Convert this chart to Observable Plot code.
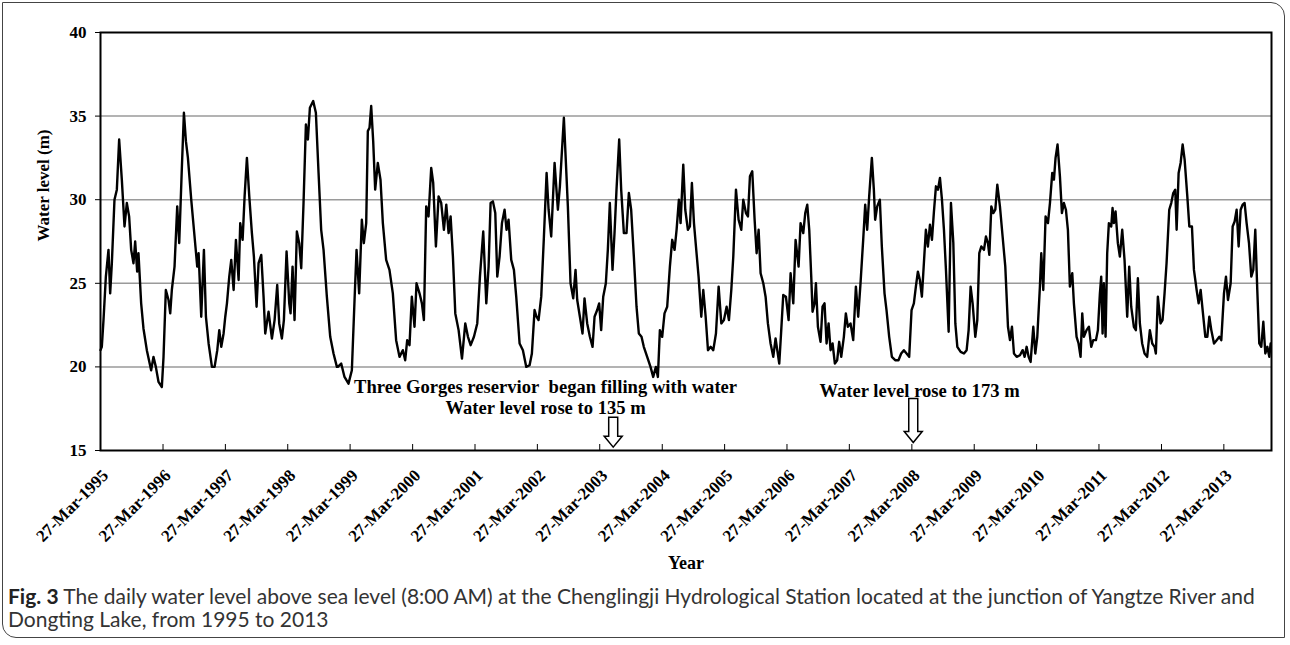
<!DOCTYPE html>
<html>
<head>
<meta charset="utf-8">
<script src="https://cdn.jsdelivr.net/npm/d3@7"></script>
<script src="https://cdn.jsdelivr.net/npm/@observablehq/plot@0.6"></script>
<style>
  html, body { margin: 0; padding: 0; background: #fff; }
  #border { position: absolute; left: 2px; top: 2px; width: 1283px; height: 636px;
            border: 1.5px solid #444; border-radius: 0 14px 0 14px; box-sizing: border-box; pointer-events: none; }
  #chart { position: absolute; left: 0; top: 0; }
  #caption { position: absolute; left: 8px; top: 584px; width: 1275px; font-family: Lato, "Open Sans", sans-serif;
             font-size: 21px; line-height: 23px; color: #333; white-space: nowrap; }
  #caption b { color: #222; }
</style>
</head>
<body>
<div id="chart"></div>
<div id="caption"></div>
<div id="border"></div>
<script>
// ---- Data: [decimal year, water level (m)] ----
const levels1995to1998 = [
[1995.233,21.0],[1995.254,21.2],[1995.281,22.8],[1995.319,25.4],[1995.361,27.0],[1995.388,24.4],[1995.415,26.2],[1995.457,30.0],[1995.495,30.6],[1995.532,33.6],[1995.575,31.2],[1995.618,28.4],[1995.655,29.8],[1995.692,29.0],[1995.725,27.0],[1995.762,26.2],[1995.789,27.5],[1995.821,25.7],[1995.842,26.8],[1995.885,23.8],[1995.922,22.3],[1995.976,21.0],[1996.045,19.8],[1996.082,20.6],[1996.120,20.0],[1996.163,19.1],[1996.216,18.8],[1996.243,20.6],[1996.280,24.6],[1996.323,24.0],[1996.350,23.2],[1996.376,24.6],[1996.419,26.0],[1996.462,29.6],[1996.494,27.4],[1996.537,32.0],[1996.569,35.2],[1996.601,33.5],[1996.633,32.5],[1996.686,30.0],[1996.739,27.8],[1996.782,26.0],[1996.804,26.8],[1996.846,23.0],[1996.889,27.0],[1996.921,23.0],[1996.964,21.4],[1997.017,20.0],[1997.060,20.0],[1997.103,21.0],[1997.135,22.2],[1997.167,21.2],[1997.204,22.0],[1997.231,23.0],[1997.258,23.8],[1997.295,25.4],[1997.327,26.4],[1997.365,24.6],[1997.402,27.6],[1997.445,25.2],[1997.471,28.6],[1997.509,27.6],[1997.541,30.2],[1997.578,32.5],[1997.616,30.2],[1997.658,28.0],[1997.690,26.6],[1997.733,23.6],[1997.765,26.2],[1997.808,26.7],[1997.845,24.2],[1997.872,22.0],[1997.925,23.3],[1997.979,21.7],[1998.022,22.8],[1998.064,24.9],[1998.096,22.6],[1998.139,21.7],[1998.171,22.8],[1998.214,26.9],[1998.257,23.8],[1998.278,23.2],[1998.310,26.0],[1998.342,22.8],[1998.379,28.1],[1998.417,27.4],[1998.449,25.9],[1998.486,29.8],[1998.524,34.5],[1998.556,33.6],[1998.588,35.5],[1998.641,35.9],[1998.684,35.2],[1998.727,31.6],[1998.769,28.2],[1998.807,27.0],[1998.860,24.2],[1998.914,21.8],[1998.967,20.8],[1999.021,20.0]
];
const levels1999to2002 = [
[1999.036,20.0],[1999.090,20.2],[1999.143,19.4],[1999.207,19.0],[1999.261,19.8],[1999.304,24.0],[1999.336,27.0],[1999.378,24.4],[1999.421,28.8],[1999.453,27.4],[1999.491,28.6],[1999.517,34.1],[1999.544,34.3],[1999.571,35.6],[1999.603,33.5],[1999.635,30.6],[1999.677,32.2],[1999.720,31.2],[1999.758,28.6],[1999.811,26.4],[1999.864,25.8],[1999.918,24.4],[1999.971,21.6],[2000.025,20.6],[2000.078,21.0],[2000.116,20.4],[2000.148,21.6],[2000.185,21.3],[2000.222,24.2],[2000.265,22.4],[2000.297,25.0],[2000.345,24.4],[2000.383,23.8],[2000.415,22.8],[2000.452,29.6],[2000.489,29.0],[2000.532,31.9],[2000.564,31.0],[2000.607,27.2],[2000.650,30.2],[2000.692,29.8],[2000.735,28.2],[2000.773,29.7],[2000.810,28.0],[2000.842,29.0],[2000.879,26.6],[2000.917,23.2],[2000.970,22.2],[2001.024,20.5],[2001.077,22.6],[2001.120,21.8],[2001.163,21.3],[2001.216,21.8],[2001.269,22.6],[2001.312,25.4],[2001.365,28.1],[2001.414,23.8],[2001.451,26.0],[2001.483,29.8],[2001.520,29.9],[2001.558,29.2],[2001.590,25.4],[2001.627,26.6],[2001.665,28.6],[2001.707,29.4],[2001.739,28.2],[2001.771,28.8],[2001.814,26.4],[2001.857,25.8],[2001.894,24.2],[2001.948,21.4],[2002.001,21.0],[2002.055,20.0],[2002.108,20.1],[2002.145,20.8],[2002.188,23.4],[2002.220,23.0],[2002.252,22.8],[2002.295,24.2],[2002.338,27.8],[2002.381,31.6],[2002.413,29.4],[2002.455,27.8],[2002.509,32.2],[2002.562,29.4],[2002.594,30.8],[2002.658,34.9],[2002.722,29.6],[2002.765,25.0],[2002.808,24.1]
];
const levels2002to2006 = [
[2002.845,25.8],[2002.872,24.0],[2002.915,23.0],[2002.957,22.0],[2002.989,24.1],[2003.032,22.6],[2003.075,21.8],[2003.118,21.2],[2003.150,23.0],[2003.192,23.4],[2003.224,23.8],[2003.256,22.2],[2003.289,24.2],[2003.331,25.0],[2003.363,27.0],[2003.395,29.8],[2003.438,25.8],[2003.470,28.0],[2003.502,30.6],[2003.545,33.6],[2003.577,30.6],[2003.620,28.0],[2003.662,28.0],[2003.700,30.4],[2003.737,29.4],[2003.780,26.6],[2003.823,23.6],[2003.860,22.0],[2003.903,21.8],[2003.940,21.2],[2003.994,20.6],[2004.047,20.0],[2004.090,19.4],[2004.133,20.0],[2004.165,19.4],[2004.197,22.2],[2004.234,21.8],[2004.271,23.2],[2004.314,23.6],[2004.357,26.0],[2004.394,27.6],[2004.432,27.0],[2004.464,28.2],[2004.501,30.0],[2004.528,28.6],[2004.571,32.1],[2004.603,29.4],[2004.645,28.2],[2004.677,28.4],[2004.709,31.0],[2004.742,28.6],[2004.774,27.2],[2004.816,25.4],[2004.859,23.0],[2004.891,24.6],[2004.929,23.0],[2004.966,21.0],[2005.009,21.2],[2005.051,21.0],[2005.094,22.0],[2005.137,24.8],[2005.180,22.6],[2005.222,22.8],[2005.265,23.6],[2005.302,22.8],[2005.340,24.6],[2005.372,26.6],[2005.415,30.6],[2005.457,28.8],[2005.500,28.2],[2005.532,30.0],[2005.575,29.2],[2005.607,29.0],[2005.639,31.4],[2005.676,31.7],[2005.714,28.8],[2005.746,26.8],[2005.778,28.2],[2005.810,25.6],[2005.853,25.0],[2005.890,24.2],[2005.927,22.6],[2005.970,21.4],[2006.013,20.6],[2006.050,21.7],[2006.077,21.0],[2006.109,20.2],[2006.141,22.2],[2006.173,24.3],[2006.216,24.2],[2006.259,22.8],[2006.291,25.6],[2006.334,23.8],[2006.371,27.6],[2006.419,26.0],[2006.451,28.6],[2006.494,28.0],[2006.526,29.2],[2006.558,29.7]
];
const levels2006to2010 = [
[2006.590,28.2],[2006.622,25.4],[2006.643,23.3],[2006.675,23.8],[2006.697,25.0],[2006.729,22.4],[2006.771,21.5],[2006.803,23.6],[2006.835,23.8],[2006.868,21.4],[2006.900,22.6],[2006.932,21.0],[2006.964,21.4],[2007.001,20.2],[2007.038,20.4],[2007.070,21.5],[2007.103,20.6],[2007.145,21.8],[2007.177,23.2],[2007.209,22.4],[2007.252,22.6],[2007.295,21.6],[2007.338,24.8],[2007.375,23.0],[2007.412,25.0],[2007.455,27.6],[2007.487,29.7],[2007.519,28.2],[2007.551,30.2],[2007.594,32.5],[2007.626,30.6],[2007.647,28.8],[2007.680,29.6],[2007.722,30.0],[2007.754,27.2],[2007.797,24.4],[2007.829,23.4],[2007.872,21.8],[2007.915,20.6],[2007.968,20.4],[2008.021,20.4],[2008.064,20.8],[2008.107,21.0],[2008.150,20.8],[2008.192,20.6],[2008.230,23.4],[2008.267,23.8],[2008.299,24.8],[2008.331,25.7],[2008.363,25.2],[2008.395,24.2],[2008.427,26.2],[2008.459,28.2],[2008.491,27.2],[2008.524,28.5],[2008.556,27.6],[2008.588,29.3],[2008.620,30.8],[2008.652,30.6],[2008.684,31.3],[2008.716,30.0],[2008.748,28.2],[2008.780,25.8],[2008.823,22.1],[2008.860,29.8],[2008.898,27.4],[2008.930,22.6],[2008.962,21.2],[2009.015,20.9],[2009.068,20.8],[2009.111,21.0],[2009.143,22.2],[2009.175,24.8],[2009.207,23.8],[2009.250,21.8],[2009.282,22.8],[2009.314,26.8],[2009.346,27.2],[2009.389,27.0],[2009.421,27.8],[2009.453,27.4],[2009.475,26.7],[2009.507,29.6],[2009.539,29.2],[2009.571,29.4],[2009.603,30.9],[2009.645,29.6],[2009.688,27.8],[2009.731,26.0],[2009.774,22.4],[2009.806,21.6],[2009.838,22.4],[2009.870,20.8],[2009.913,20.6],[2009.966,20.7],[2010.009,21.0],[2010.041,20.6],[2010.073,21.2],[2010.105,20.6],[2010.137,20.3],[2010.180,22.4],[2010.212,20.8],[2010.244,21.8],[2010.286,24.8],[2010.308,26.8],[2010.340,24.6]
];
const levels2010to2013 = [
[2010.377,29.0],[2010.415,28.6],[2010.447,29.8],[2010.484,31.6],[2010.511,31.2],[2010.537,32.5],[2010.569,33.3],[2010.607,31.4],[2010.639,29.2],[2010.671,29.8],[2010.703,29.4],[2010.735,28.2],[2010.767,24.8],[2010.805,25.6],[2010.831,23.8],[2010.874,21.8],[2010.906,21.4],[2010.938,20.6],[2010.965,23.2],[2010.991,21.8],[2011.034,22.2],[2011.072,22.4],[2011.109,21.2],[2011.141,21.6],[2011.184,21.6],[2011.216,22.2],[2011.248,24.4],[2011.269,25.4],[2011.291,22.0],[2011.312,25.0],[2011.339,21.8],[2011.365,26.8],[2011.392,28.6],[2011.430,28.4],[2011.451,29.5],[2011.472,28.6],[2011.499,29.3],[2011.536,27.4],[2011.568,26.6],[2011.606,28.2],[2011.643,26.4],[2011.686,23.0],[2011.718,26.0],[2011.750,23.6],[2011.793,22.4],[2011.825,22.2],[2011.857,25.3],[2011.889,22.6],[2011.926,21.4],[2011.964,20.8],[2012.006,20.6],[2012.049,22.2],[2012.087,21.4],[2012.124,21.2],[2012.145,20.8],[2012.177,24.2],[2012.220,22.6],[2012.252,22.8],[2012.284,24.4],[2012.316,26.2],[2012.359,29.4],[2012.391,29.8],[2012.423,30.4],[2012.455,30.6],[2012.477,28.2],[2012.509,31.6],[2012.541,32.2],[2012.573,33.3],[2012.605,32.4],[2012.648,30.2],[2012.680,28.4],[2012.722,28.4],[2012.754,25.8],[2012.797,24.6],[2012.829,23.8],[2012.861,24.6],[2012.893,23.4],[2012.936,21.8],[2012.968,21.8],[2013.000,23.0],[2013.032,22.2],[2013.075,21.4],[2013.118,21.6],[2013.160,21.8],[2013.192,21.6],[2013.235,24.4],[2013.267,25.4],[2013.299,24.0],[2013.342,25.0],[2013.374,28.4],[2013.406,28.7],[2013.438,29.4],[2013.470,27.2],[2013.502,29.4],[2013.534,29.7],[2013.566,29.8],[2013.598,28.6],[2013.636,27.4],[2013.673,25.4],[2013.705,25.8],[2013.737,28.2],[2013.769,24.6],[2013.801,21.4],[2013.833,21.2],[2013.866,22.7],[2013.898,20.8],[2013.930,21.2],[2013.962,20.6],[2013.983,21.4]
];

const tickYears = [1995,1996,1997,1998,1999,2000,2001,2002,2003,2004,2005,2006,2007,2008,2009,2010,2011,2012,2013];
const yTicks = [15, 20, 25, 30, 35, 40];
const gridLevels = [20, 25, 30, 35];
const axisTitles = { x: "Year", y: "Water level (m)" };
const captionLabel = "Fig. 3";
const captionLines = [
  "The daily water level above sea level (8:00 AM) at the Chenglingji Hydrological Station located at the junction of Yangtze River and",
  "Dongting Lake, from 1995 to 2013"
];

const annotations = [
  { t: 2002.365, level: 18.23, label: "Three Gorges reservior\u00a0 began filling with water\nWater level rose to 135 m" },
  { t: 2008.358, level: 18.64, label: "Water level rose to 173 m" }
];
const arrowMarks = [
  { t: 2003.449, level: 15.2, len: 30 },
  { t: 2008.257, level: 15.48, len: 44 }
];

// ---- helpers ----
function toDate(t) {
  const y = Math.floor(t);
  const a = Date.UTC(y, 0, 1), b = Date.UTC(y + 1, 0, 1);
  return new Date(a + (t - y) * (b - a));
}
const series = [...levels1995to1998, ...levels1999to2002, ...levels2002to2006, ...levels2006to2010, ...levels2010to2013]
  .map(([t, v]) => ({ date: toDate(t), level: v }));
const tickDates = tickYears.map(y => new Date(Date.UTC(y, 2, 27)));
const fmt = d3.utcFormat("%d-%b-%Y");

function hollowArrow(len) {
  const w = 4.5, h = 9, hl = 11;
  return {
    draw(ctx) {
      ctx.moveTo(-w, -len); ctx.lineTo(w, -len); ctx.lineTo(w, -hl); ctx.lineTo(h, -hl);
      ctx.lineTo(0, 0); ctx.lineTo(-h, -hl); ctx.lineTo(-w, -hl); ctx.closePath();
    }
  };
}

const serif = "'Liberation Serif', 'Times New Roman', serif";

const chart = Plot.plot({
  width: 1290,
  height: 582,
  marginLeft: 100,
  marginRight: 19,
  marginTop: 32,
  marginBottom: 132,
  style: { fontFamily: serif, fontWeight: "bold", color: "black", background: "transparent", overflow: "visible" },
  x: { type: "utc", domain: [toDate(1995.233), toDate(2013.997)] },
  y: { domain: [15, 40] },
  marks: [
    Plot.gridY(gridLevels, { stroke: "#9a9a9a", strokeOpacity: 1, strokeWidth: 1.5 }),
    Plot.axisY({ ticks: yTicks, tickSize: 5, tickPadding: 9, fontSize: 17, fontWeight: "bold", label: null, tickFormat: d => String(d) }),
    Plot.axisX({ ticks: tickDates, tickSize: 6, dy: -6, tickFormat: () => "", label: null }),
    Plot.axisX({ ticks: tickDates, tickSize: 0, tickPadding: 22, dx: 5, tickRotate: -45, tickFormat: fmt, fontSize: 17, fontWeight: "bold", label: null }),
    Plot.line(series, { x: "date", y: "level", stroke: "black", strokeWidth: 2.4, strokeLinejoin: "round" }),
    Plot.frame({ stroke: "black", strokeWidth: 2 }),
    Plot.text([axisTitles.y], { frameAnchor: "left", dx: -57, rotate: -90, fontSize: 17, fontWeight: "bold" }),
    Plot.text([axisTitles.x], { frameAnchor: "bottom", dy: 118, fontSize: 18, fontWeight: "bold" }),
    Plot.text(annotations, { x: d => toDate(d.t), y: "level", text: "label", fontSize: 18.6, fontWeight: "bold", lineHeight: 1.17, fill: "black" }),
    ...arrowMarks.map(a => Plot.dot([a], { x: d => toDate(d.t), y: "level", symbol: hollowArrow(a.len), fill: "white", stroke: "black", strokeWidth: 1.5 }))
  ]
});
document.getElementById("chart").appendChild(chart);

const cap = document.getElementById("caption");
const b = document.createElement("b");
b.textContent = captionLabel;
cap.appendChild(b);
cap.appendChild(document.createTextNode(" " + captionLines[0]));
cap.appendChild(document.createElement("br"));
cap.appendChild(document.createTextNode(captionLines[1]));
</script>
</body>
</html>
